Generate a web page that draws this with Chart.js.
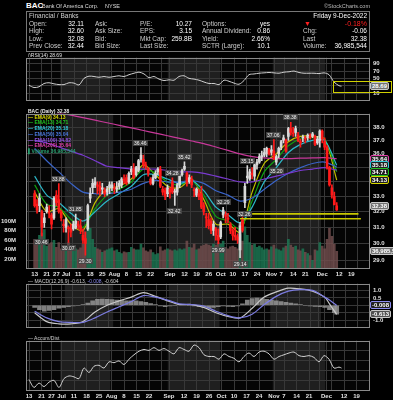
<!DOCTYPE html>
<html>
<head>
<meta charset="utf-8">
<script src="https://cdn.jsdelivr.net/npm/chart.js@4/dist/chart.umd.min.js"></script>
<style>
  body { margin: 0; background: #000; }
  #wrap { position: relative; width: 393px; height: 400px; overflow: hidden; background: #000;
          font-family: 'Liberation Sans', Arial, sans-serif; color: #ddd; }
  .pane { position: absolute; left: 0; width: 393px; }
  .t { position: absolute; white-space: nowrap; font-size: 6.5px; line-height: 7px; }
  #box { position: absolute; left: 26px; top: 11px; width: 342px; height: 39px; border: 1px solid #777; }
</style>
</head>
<body>
<div id="wrap">
  <div id="box"></div>
  <div class="pane" style="top:51px;height:56px"><canvas id="cRsi"></canvas></div>
  <div class="pane" style="top:107px;height:171px"><canvas id="cPrice"></canvas></div>
  <div class="pane" style="top:277px;height:57px"><canvas id="cMacd"></canvas></div>
  <div class="pane" style="top:334px;height:66px"><canvas id="cAd"></canvas></div>
</div>
<script>
// ---- data (trading days from 13-Jun-2022 to 9-Dec-2022, one row per week) ----
const open = [
  33.2, 32.5, 32.4, 32.0, 31.3,
  32.0, 31.9, 31.8, 31.6,
  33.1, 32.8, 32.0, 31.2, 31.0,
  31.0, 30.9, 30.9, 31.0,
  31.2, 31.1, 30.2, 30.0, 30.9,
  32.9, 33.6, 33.8, 33.8, 33.7,
  33.5, 33.4, 33.3, 33.6, 33.6,
  33.5, 33.5, 33.7, 33.8, 34.2,
  34.3, 34.0, 34.9, 34.9, 34.5,
  34.8, 35.6, 35.6, 35.2, 34.9,
  34.2, 33.9, 34.3, 34.7, 34.9,
  33.5, 33.4, 33.2, 33.3, 34.0,
  33.3, 33.3, 33.8, 34.5,
  34.9, 34.6, 34.0, 34.2, 33.4,
  33.1, 33.2, 33.2, 32.4, 31.6,
  31.5, 31.4, 30.8, 30.9, 30.5,
  30.4, 31.8, 31.8, 31.6, 31.2,
  30.8, 30.5, 30.4, 29.6, 31.5,
  32.6, 34.3, 34.2, 34.6, 34.4,
  35.2, 35.4, 35.8, 35.9, 36.0,
  36.3, 36.3, 36.2, 35.4, 36.0,
  36.5, 37.0, 37.0, 37.3, 37.9,
  37.5, 37.9, 37.4, 36.8, 37.2,
  37.1, 37.2, 37.3, 37.3,
  37.3, 36.8, 37.0, 37.7, 36.5,
  36.5, 35.0, 33.6, 33.0, 32.11
];
const high = [
  33.4, 32.8, 33.2, 32.1, 31.9,
  32.5, 32.4, 31.9, 33.0,
  33.4, 33.88, 32.1, 31.5, 31.6,
  31.1, 31.2, 31.4, 31.85,
  31.4, 31.5, 30.9, 30.7, 32.5,
  33.6, 34.2, 34.3, 34.0, 34.0,
  33.9, 33.6, 33.7, 34.0, 34.0,
  33.9, 34.0, 34.1, 34.3, 34.5,
  34.5, 34.7, 35.1, 35.3, 35.1,
  35.6, 36.46, 35.9, 35.4, 35.0,
  34.3, 34.5, 34.8, 35.0, 35.1,
  33.7, 33.6, 33.8, 33.6, 34.28,
  33.5, 33.9, 34.5, 34.9,
  35.42, 34.7, 34.5, 34.4, 33.6,
  33.6, 33.5, 33.7, 32.6, 31.9,
  31.9, 31.6, 31.4, 31.0, 30.9,
  31.4, 32.29, 32.0, 31.9, 31.3,
  30.9, 31.0, 30.6, 31.3, 31.7,
  33.9, 35.15, 34.9, 35.0, 35.3,
  35.6, 36.0, 36.2, 36.4, 36.5,
  36.4, 36.6, 37.06, 35.9, 36.5,
  37.0, 37.4, 37.1, 38.0, 38.38,
  38.0, 38.1, 37.6, 37.1, 37.4,
  37.3, 37.5, 37.5, 37.6,
  37.4, 37.3, 37.8, 37.8, 37.2,
  36.6, 35.1, 33.8, 33.3, 32.60
];
const low = [
  32.3, 31.9, 32.0, 30.46, 31.0,
  31.9, 31.6, 30.9, 31.5,
  32.4, 31.9, 31.4, 30.7, 30.7,
  30.07, 30.4, 30.8, 30.9,
  30.9, 30.6, 30.0, 29.30, 30.8,
  32.6, 33.2, 33.6, 33.2, 33.1,
  33.2, 33.0, 33.1, 33.2, 33.4,
  33.2, 33.3, 33.5, 33.6, 33.9,
  33.8, 33.9, 34.5, 34.2, 34.4,
  34.7, 35.4, 35.0, 34.9, 34.4,
  33.8, 33.8, 34.2, 34.5, 33.6,
  33.1, 32.8, 33.0, 32.9, 33.2,
  32.42, 33.1, 33.6, 34.4,
  34.8, 33.7, 33.9, 33.6, 33.0,
  33.0, 32.8, 32.2, 31.8, 31.0,
  30.9, 30.6, 30.5, 30.2, 29.99,
  30.3, 31.6, 31.3, 31.3, 30.6,
  30.2, 30.2, 30.0, 29.14, 30.7,
  32.26, 33.9, 34.1, 34.2, 34.1,
  34.9, 35.3, 35.5, 35.8, 35.8,
  35.9, 35.9, 35.6, 35.20, 35.7,
  36.3, 36.8, 36.1, 37.0, 37.4,
  37.3, 37.3, 36.9, 36.5, 36.9,
  36.8, 37.0, 37.1, 37.2,
  36.6, 36.7, 36.5, 36.8, 36.3,
  34.9, 33.7, 32.9, 32.5, 32.08
];
const close = [
  32.4, 32.1, 32.9, 31.0, 31.6,
  32.3, 31.9, 31.2, 32.9,
  32.6, 32.0, 31.6, 31.1, 31.5,
  30.9, 30.7, 31.2, 31.4,
  31.1, 30.8, 30.5, 30.3, 32.4,
  33.2, 33.9, 34.0, 33.7, 33.4,
  33.6, 33.2, 33.5, 33.8, 33.8,
  33.6, 33.6, 33.9, 34.2, 34.1,
  33.9, 34.6, 34.7, 34.3, 35.0,
  35.5, 35.9, 35.2, 35.1, 34.6,
  33.9, 34.3, 34.6, 34.9, 33.7,
  33.3, 33.0, 33.6, 33.5, 33.3,
  33.3, 33.8, 34.4, 34.8,
  35.1, 33.9, 34.3, 33.8, 33.4,
  33.5, 33.0, 32.3, 32.0, 31.6,
  31.1, 30.8, 31.2, 30.5, 30.2,
  31.3, 32.1, 31.7, 31.5, 30.8,
  30.5, 30.4, 30.2, 31.1, 30.8,
  33.7, 34.4, 34.7, 34.5, 35.2,
  35.4, 35.8, 35.8, 36.1, 36.4,
  36.0, 36.1, 35.6, 35.8, 36.4,
  36.9, 37.2, 36.2, 37.9, 37.6,
  37.5, 37.6, 37.0, 36.9, 37.2,
  37.1, 37.4, 37.2, 37.5,
  36.7, 37.1, 37.7, 37.1, 36.9,
  35.0, 33.8, 33.1, 32.44, 32.38
];
// volume, millions of shares
const volume = [
  62, 58, 70, 75, 82,
  48, 52, 55, 60,
  45, 55, 42, 50, 48,
  55, 45, 38, 42,
  40, 44, 52, 78, 92,
  85, 62, 45, 42, 40,
  35, 38, 40, 42, 44,
  38, 40, 35, 32, 36,
  34, 35, 45, 42, 40,
  40, 52, 44, 38, 36,
  40, 34, 30, 32, 46,
  38, 40, 42, 40, 38,
  40, 38, 42, 40,
  42, 58, 45, 44, 52,
  40, 42, 48, 50, 52,
  50, 48, 52, 50, 55,
  52, 58, 45, 42, 46,
  48, 45, 42, 72, 58,
  88, 70, 55, 50, 52,
  45, 48, 44, 40, 42,
  40, 46, 50, 42, 40,
  38, 44, 48, 62, 50,
  45, 48, 40, 38, 42,
  35, 32, 28, 18,
  40, 38, 55, 48, 42,
  62, 85, 68, 52, 36.99
];

// moving averages read once a week (every 5th trading day) plus the last day
const emaIdx = [0, 5, 10, 15, 20, 25, 30, 35, 40, 45, 50, 55, 60, 65, 70, 75, 80, 85, 90, 95, 100, 105, 110, 115, 120, 125];
const ema9   = [33.3, 32.0, 32.2, 31.2, 30.8, 32.6, 33.5, 33.7, 34.2, 35.2, 34.5, 33.7, 33.6, 34.2, 32.8, 31.2, 31.2, 30.7, 33.3, 35.3, 36.0, 36.9, 37.3, 37.3, 37.1, 34.13];
const ema13  = [33.8, 32.5, 32.3, 31.5, 31.0, 32.2, 33.1, 33.5, 34.0, 34.9, 34.6, 34.0, 33.8, 34.1, 33.1, 31.7, 31.4, 30.9, 32.7, 34.7, 35.6, 36.6, 37.1, 37.2, 37.1, 34.71];
const ema20  = [34.4, 33.1, 32.6, 31.9, 31.4, 32.0, 32.7, 33.2, 33.7, 34.5, 34.5, 34.2, 33.9, 34.1, 33.4, 32.3, 31.8, 31.3, 32.3, 34.0, 35.0, 36.1, 36.7, 37.0, 37.0, 35.18];
const ema50  = [36.4, 35.5, 34.7, 33.9, 33.3, 33.2, 33.2, 33.3, 33.5, 33.9, 34.1, 34.0, 34.0, 34.1, 33.9, 33.4, 33.1, 32.7, 32.9, 33.5, 34.1, 34.6, 35.0, 35.3, 35.4, 35.04];
const ema100 = [37.0, 36.8, 36.5, 36.2, 35.9, 35.5, 35.1, 35.0, 34.9, 34.9, 34.9, 34.8, 34.7, 34.7, 34.6, 34.4, 34.2, 34.0, 34.0, 34.2, 34.4, 34.6, 34.8, 34.9, 35.0, 34.82];
const ema200 = [39.5, 39.3, 39.1, 38.95, 38.75, 38.55, 38.35, 38.15, 37.95, 37.75, 37.55, 37.35, 37.15, 36.95, 36.75, 36.5, 36.25, 36.0, 35.8, 35.7, 35.65, 35.65, 35.68, 35.7, 35.72, 35.64];

// RSI(14), every 2nd trading day plus the last day
const rsi = [31, 25, 27, 36, 38, 35, 33, 33, 38, 37, 32, 50, 56, 55, 53, 55, 53, 55, 57, 55, 60, 64, 67, 62, 52, 55, 48, 44, 46, 45, 55, 57,
             50, 48, 45, 40, 36, 36, 33, 45, 42, 37, 34, 44, 60, 62, 64, 65, 66, 65, 64, 67, 68, 70, 66, 64, 64, 64, 63, 65, 60, 40, 30, 28.69];

// MACD(12,26,9) and signal, read weekly plus the last days
const macdIdx = [0, 5, 10, 15, 20, 25, 30, 35, 40, 45, 50, 55, 60, 65, 70, 75, 80, 85, 90, 95, 100, 105, 110, 115, 120, 122, 125];
const macd   = [-0.5, -1.1, -1.25, -1.25, -1.1, -0.45, 0.0, 0.3, 0.55, 0.85, 0.6, 0.3, 0.05, 0.05, -0.15, -0.5, -0.75, -0.85, -0.2, 0.55, 0.9, 1.15, 1.1, 0.95, 0.55, 0.1, -0.613];
const signal = [-0.4, -0.85, -1.1, -1.15, -1.15, -0.85, -0.45, -0.1, 0.25, 0.65, 0.55, 0.35, 0.1, 0.05, -0.05, -0.4, -0.7, -0.85, -0.6, 0.05, 0.6, 0.95, 1.05, 1.0, 0.55, 0.35, -0.008];
// histogram, every 2nd trading day plus the last day
const hist = [-0.15, -0.3, -0.4, -0.35, -0.3, -0.2, -0.15, -0.1, -0.05, 0.0, 0.05, 0.15, 0.3, 0.4, 0.42, 0.4, 0.38, 0.35, 0.33,
              0.3, 0.3, 0.3, 0.25, 0.2, 0.12, 0.05, -0.05, -0.1, -0.05, 0.0, 0.05, 0.05, 0.0, -0.05, -0.1, -0.15, -0.2,
              -0.15, -0.1, -0.05, -0.08, -0.1, -0.05, 0.1, 0.35, 0.45, 0.48, 0.45, 0.4, 0.35, 0.3, 0.25, 0.2, 0.15, 0.1,
              0.05, 0.0, -0.05, -0.08, -0.1, -0.15, -0.3, -0.5, -0.604];

// Accumulation/Distribution, millions, every 2nd trading day plus the last day
const accDist = [226, 70, 157, 87, 174, 209, 70, 244, 296, 278, 244, 452, 365, 487, 505, 452, 574, 557, 592, 522, 626, 713, 783, 818,
                 800, 853, 800, 835, 783, 731, 853, 818, 783, 905, 853, 713, 679, 679, 626, 731, 679, 644, 574, 679, 748, 679, 766,
                 783, 731, 626, 679, 713, 748, 766, 696, 679, 696, 661, 574, 696, 626, 452, 470, 452];

// labelled highs and lows
const annIdx   = [10, 17, 3, 14, 21, 44, 57, 58, 62, 78, 76, 85, 88, 87, 99, 100, 106];
const annPrice = [33.88, 31.85, 30.46, 30.07, 29.30, 36.46, 34.28, 32.42, 35.42, 32.29, 29.99, 29.14, 35.15, 32.26, 37.06, 35.20, 38.38];
const annSide  = ['H', 'H', 'L', 'L', 'L', 'H', 'H', 'L', 'H', 'H', 'L', 'L', 'H', 'L', 'H', 'L', 'H'];

// drawn support lines
const supportLevel = [31.86, 31.55];
const supportFrom  = [90, 85];
const supportTo    = [134, 135];

// date axis
const tickIdx  = [0, 5, 9, 13, 18, 23, 28, 33, 38, 43, 48, 53, 56, 62, 67, 72, 77, 82, 87, 92, 98, 102, 107, 112, 116, 119, 121, 126, 131, 136];
const tickText = ['13', '21', '27', 'Jul', '11', '18', '25', 'Aug', '8', '15', '22', '', 'Sep', '12', '19', '26', 'Oct', '10', '17', '24', 'Nov', '7', '14', '21', '', 'Dec', '', '12', '19', ''];
const monthEdges = [12.5, 32.5, 55.5, 76.5, 97.5, 118.5];

const priceTicks = [29, 29.5, 30, 30.5, 31, 31.5, 32, 32.5, 33, 33.5, 34, 34.5, 35, 35.5, 36, 36.5, 37, 37.5, 38, 38.5];
const volTicks = [20, 40, 60, 80, 100];
const rsiTicks = [10, 30, 50, 70, 90];
const macdTicks = [-1, -0.5, 0, 0.5, 1];
const adTicks = [200, 400, 600, 800];

// ---- helpers ----
const X_MIN = -1.2, X_MAX = 136.4;
const GRID = '#383838';
const TICK_FONT = { family: "'Liberation Sans', Arial, sans-serif", size: 6, weight: 'bold' };
const wrap = document.getElementById('wrap');
const days = close.map((c, i) => i);
const every2 = rsi.map((v, k) => Math.min(k * 2, 125));
const upDay = close.map((c, i) => c >= (i ? close[i - 1] : open[i]));

const panelPlugin = {
  id: 'panel',
  beforeDraw(c) {
    const { ctx, chartArea: a, scales: { x } } = c;
    ctx.save();
    ctx.fillStyle = '#050505';
    ctx.fillRect(a.left, a.top, a.width, a.height);
    ctx.fillStyle = '#1f1f1f';
    for (let k = 0; k + 1 < monthEdges.length; k += 2) {
      const l = x.getPixelForValue(monthEdges[k]);
      const r = x.getPixelForValue(monthEdges[k + 1]);
      ctx.fillRect(l, a.top, r - l, a.height);
    }
    ctx.restore();
  },
  afterDraw(c) {
    const { ctx, chartArea: a } = c;
    ctx.save();
    ctx.strokeStyle = '#8a8a8a';
    ctx.lineWidth = 1;
    ctx.strokeRect(Math.round(a.left) + 0.5, Math.round(a.top) + 0.5, Math.round(a.width) - 1, Math.round(a.height) - 1);
    ctx.restore();
  }
};

function xAxis(showLabels) {
  return {
    type: 'linear', min: X_MIN, max: X_MAX,
    afterBuildTicks: s => { s.ticks = tickIdx.map(v => ({ value: v })); },
    afterFit: s => { s.height = showLabels ? 9 : 0; },
    grid: { color: GRID, drawTicks: false },
    border: { display: false },
    ticks: {
      display: showLabels, autoSkip: false, maxRotation: 0, padding: 1.5,
      color: '#e0e0e0', font: TICK_FONT,
      callback: (v, i) => tickText[i]
    }
  };
}

function yRight(extra, ticks, fmt) {
  return Object.assign({
    position: 'right',
    afterBuildTicks: s => { s.ticks = ticks.map(v => ({ value: v })); },
    afterFit: s => { s.width = 23; },
    grid: { color: GRID, drawTicks: false },
    border: { display: false },
    ticks: { color: '#e0e0e0', padding: 3, font: TICK_FONT, callback: fmt }
  }, extra);
}

function baseOptions(scales, padLeft) {
  return {
    responsive: true, maintainAspectRatio: false, animation: false,
    layout: { padding: { left: padLeft, right: 0, top: 0, bottom: 0 } },
    plugins: { legend: { display: false }, tooltip: { enabled: false } },
    scales
  };
}

function pts(idx, vals) { return vals.map((v, k) => ({ x: idx[k], y: v })); }

function lineSet(data, color, width, axis) {
  return { type: 'line', data, borderColor: color, borderWidth: width || 1, pointRadius: 0,
           tension: 0.3, fill: false, yAxisID: axis || 'y', order: 2 };
}

function addText(txt, left, top, css) {
  const d = document.createElement('div');
  d.className = 't';
  d.textContent = txt;
  d.style.left = left + 'px';
  d.style.top = top + 'px';
  Object.assign(d.style, css || {});
  wrap.appendChild(d);
  return d;
}
function addRight(txt, rightEdge, top, css) {
  const d = addText(txt, 0, top, css);
  d.style.left = '';
  d.style.right = (393 - rightEdge) + 'px';
  return d;
}
function paneTop(chart) { return chart.canvas.parentNode.offsetTop; }

function tag(chart, axis, value, txt, border, bg, fg) {
  const y = paneTop(chart) + chart.scales[axis].getPixelForValue(value);
  addText(txt, 370, Math.round(y) - 4, {
    border: '1px solid ' + border, background: bg, color: fg, fontSize: '6px', lineHeight: '6px',
    padding: '0 1px', borderRadius: '2px', fontWeight: 'bold'
  });
}

// ---- RSI ----
const rsiChart = new Chart(document.getElementById('cRsi'), {
  type: 'line',
  data: { datasets: [lineSet(pts(every2, rsi), '#d0d0d0', 1)] },
  options: baseOptions({
    x: xAxis(false),
    y: yRight({ type: 'linear', min: -10.2, max: 106.7 }, rsiTicks, v => (v === 30 ? '' : v))
  }, 26),
  plugins: [panelPlugin]
});

// ---- price, moving averages and volume ----
const candleColor = upDay.map(u => (u ? '#d8d8d8' : '#ff1a1a'));
const priceChart = new Chart(document.getElementById('cPrice'), {
  type: 'bar',
  data: {
    datasets: [
      { data: days.map(i => ({ x: i, y: [low[i], high[i]] })), backgroundColor: candleColor,
        barThickness: 1, grouped: false, yAxisID: 'y', order: 1 },
      { data: days.map(i => ({ x: i, y: [open[i], close[i]] })), backgroundColor: candleColor,
        barThickness: 2, minBarLength: 1, grouped: false, yAxisID: 'y', order: 0 },
      lineSet(pts(emaIdx, ema200), '#c8389a', 1.2),
      lineSet(pts(emaIdx, ema100), '#7a3ad0', 1.2),
      lineSet(pts(emaIdx, ema50), '#3a64c8', 1.2),
      lineSet(pts(emaIdx, ema20), '#2cb8c8', 1.2),
      lineSet(pts(emaIdx, ema13), '#10a010', 1.2),
      lineSet(pts(emaIdx, ema9), '#c0c000', 1.2),
      ...supportLevel.map((lv, k) => Object.assign(
        lineSet([{ x: supportFrom[k], y: lv }, { x: supportTo[k], y: lv }], '#c8c800', 1.6), { tension: 0, order: 0 })),
      { data: days.map(i => ({ x: i, y: volume[i] })),
        backgroundColor: upDay.map(u => (u ? 'rgba(28,118,82,0.85)' : 'rgba(112,76,76,0.85)')),
        barThickness: 2, grouped: false, yAxisID: 'yVol', order: 9 }
    ]
  },
  options: baseOptions({
    x: xAxis(true),
    y: yRight({ type: 'logarithmic', min: 28.48, max: 39.07 }, priceTicks, v => Number(v).toFixed(1)),
    yVol: {
      type: 'linear', position: 'left', min: 0, max: 324,
      afterBuildTicks: s => { s.ticks = volTicks.map(v => ({ value: v })); },
      afterFit: s => { s.width = 26; },
      grid: { display: false }, border: { display: false },
      ticks: { color: '#e0e0e0', padding: 2, font: TICK_FONT, callback: v => v + 'M' }
    }
  }, 0),
  plugins: [panelPlugin]
});

// ---- MACD ----
const macdChart = new Chart(document.getElementById('cMacd'), {
  type: 'bar',
  data: {
    datasets: [
      { data: pts(every2, hist), backgroundColor: 'rgba(150,150,150,0.85)', barThickness: 4,
        grouped: false, order: 5 },
      lineSet(pts(macdIdx, signal), '#7c7ce0', 1.2),
      lineSet(pts(macdIdx, macd), '#c8c8c8', 1.2)
    ]
  },
  options: baseOptions({
    x: xAxis(false),
    y: yRight({ type: 'linear', min: -1.49, max: 1.46 }, macdTicks, v => (v === 0 ? '' : Number(v).toFixed(1)))
  }, 26),
  plugins: [panelPlugin]
});

// ---- Accumulation / Distribution ----
const adChart = new Chart(document.getElementById('cAd'), {
  type: 'line',
  data: { datasets: [lineSet(pts(every2, accDist), '#d0d0d0', 1)] },
  options: baseOptions({
    x: xAxis(true),
    y: yRight({ type: 'linear', min: 0, max: 992 }, adTicks, () => '')
  }, 26),
  plugins: [panelPlugin]
});

// ---- header ----
addText('BAC', 26, 1, { fontSize: '8px', lineHeight: '9px', fontWeight: 'bold', color: '#fff' });
addText('Bank Of America Corp.', 42, 2.5, { fontSize: '5.5px', color: '#ddd' });
addText('NYSE', 105, 2.5, { fontSize: '5.5px', color: '#ddd' });
addRight('©StockCharts.com', 370, 2.5, { fontSize: '5.5px', color: '#bbb' });

const rowTop = [11.5, 19.8, 27.3, 34.8, 42.3];
const lab = { color: '#cfcfcf' };
const val = { color: '#fff' };
addText('Financial / Banks', 29, rowTop[0], lab);
addRight('Friday  9-Dec-2022', 367, rowTop[0], val);
const col1 = ['Open:', 'High:', 'Low:', 'Prev Close:'];
const col1v = ['32.11', '32.60', '32.08', '32.44'];
const col2 = ['Ask:', 'Ask Size:', 'Bid:', 'Bid Size:'];
const col3 = ['P/E:', 'EPS:', 'Mkt Cap:', 'Last Size:'];
const col3v = ['10.27', '3.15', '259.8B', ''];
const col4 = ['Options:', 'Annual Dividend:', 'Yield:', 'SCTR (Large):'];
const col4v = ['yes', '0.86', '2.66%', '10.1'];
const col5 = ['', 'Chg:', 'Last', 'Volume:'];
const col5v = ['-0.18%', '-0.06', '32.38', '36,985,544'];
for (let r = 0; r < 4; r++) {
  const t = rowTop[r + 1];
  addText(col1[r], 29, t, lab);
  addRight(col1v[r], 84, t, val);
  addText(col2[r], 95, t, lab);
  addText(col3[r], 140, t, lab);
  addRight(col3v[r], 192, t, val);
  addText(col4[r], 202, t, lab);
  addRight(col4v[r], 270, t, val);
  addText(col5[r], 303, t, lab);
  addRight(col5v[r], 367, t, r === 0 ? { color: '#ff2020', fontSize: '7px' } : val);
}
addText('▼', 304, rowTop[1], { color: '#ff2020', fontSize: '7px' });

// ---- panel legends ----
const small = { fontSize: '5px', lineHeight: '6px' };
addText('/\\RSI(14) 28.69', 28, 52, { ...small, color: '#e0e0e0' });

const legTxt = ['BAC (Daily) 32.38', '— EMA(9) 34.13', '— EMA(13) 34.71', '— EMA(20) 35.18', '— EMA(50) 35.04',
                '— EMA(100) 34.82', '— EMA(200) 35.64', '▌Volume 36,985,544'];
const legCol = ['#e8e8e8', '#d8d800', '#20c020', '#30c8d8', '#4a7ae0', '#9050e0', '#e040a8', '#2aa070'];
legTxt.forEach((s, k) => addText(s, 28, 108 + k * 5.7, { ...small, color: legCol[k], fontWeight: 'bold' }));

const mLeg = addText('', 28, 278, { ...small, color: '#d0d0d0' });
mLeg.innerHTML = '— MACD(12,26,9) -0.613, <span style="color:#8c8cf0">-0.008</span>, -0.604';
addText('— Accum/Dist', 28, 335, { ...small, color: '#d0d0d0' });

// ---- high / low labels on the price panel ----
annIdx.forEach((ix, k) => {
  const px = priceChart.scales.x.getPixelForValue(ix);
  const py = paneTop(priceChart) + priceChart.scales.y.getPixelForValue(annPrice[k]);
  const d = addText(annPrice[k].toFixed(2), 0, 0, {
    fontSize: '5px', lineHeight: '6px', background: 'rgba(70,70,70,0.9)', color: '#f0f0f0', padding: '0 1px'
  });
  d.style.left = Math.round(px - d.offsetWidth / 2) + 'px';
  d.style.top = Math.round(annSide[k] === 'H' ? py - 8 : py + 3) + 'px';
});

// ---- value tags on the right axis ----
tag(rsiChart, 'y', 28.69, '28.69', '#c8c8c8', '#707070', '#fff');
tag(priceChart, 'y', 35.64, '35.64', '#e040a8', '#202020', '#fff');
tag(priceChart, 'y', 35.18, '35.18', '#30c8d8', '#202020', '#fff');
tag(priceChart, 'y', 34.71, '34.71', '#20c020', '#202020', '#fff');
tag(priceChart, 'y', 34.13, '34.13', '#d8d800', '#202020', '#fff');
tag(priceChart, 'y', 32.38, '32.38', '#c8c8c8', '#707070', '#fff');
tag(priceChart, 'yVol', 36.99, '36,985,544', '#c8c8c8', '#707070', '#fff');
tag(macdChart, 'y', -0.008, '-0.008', '#8c8cf0', '#202020', '#fff');
tag(macdChart, 'y', -0.613, '-0.613', '#c8c8c8', '#505050', '#fff');

// yellow box drawn on the RSI panel
const bx = rsiChart.scales.x.getPixelForValue(121.6);
const by = paneTop(rsiChart) + rsiChart.scales.y.getPixelForValue(44);
const bb = paneTop(rsiChart) + rsiChart.scales.y.getPixelForValue(16);
const box = document.createElement('div');
Object.assign(box.style, { position: 'absolute', left: Math.round(bx) + 'px', top: Math.round(by) + 'px',
  width: (390 - Math.round(bx)) + 'px', height: Math.round(bb - by) + 'px', border: '1px solid #d0d000' });
wrap.appendChild(box);
</script>
</body>
</html>
